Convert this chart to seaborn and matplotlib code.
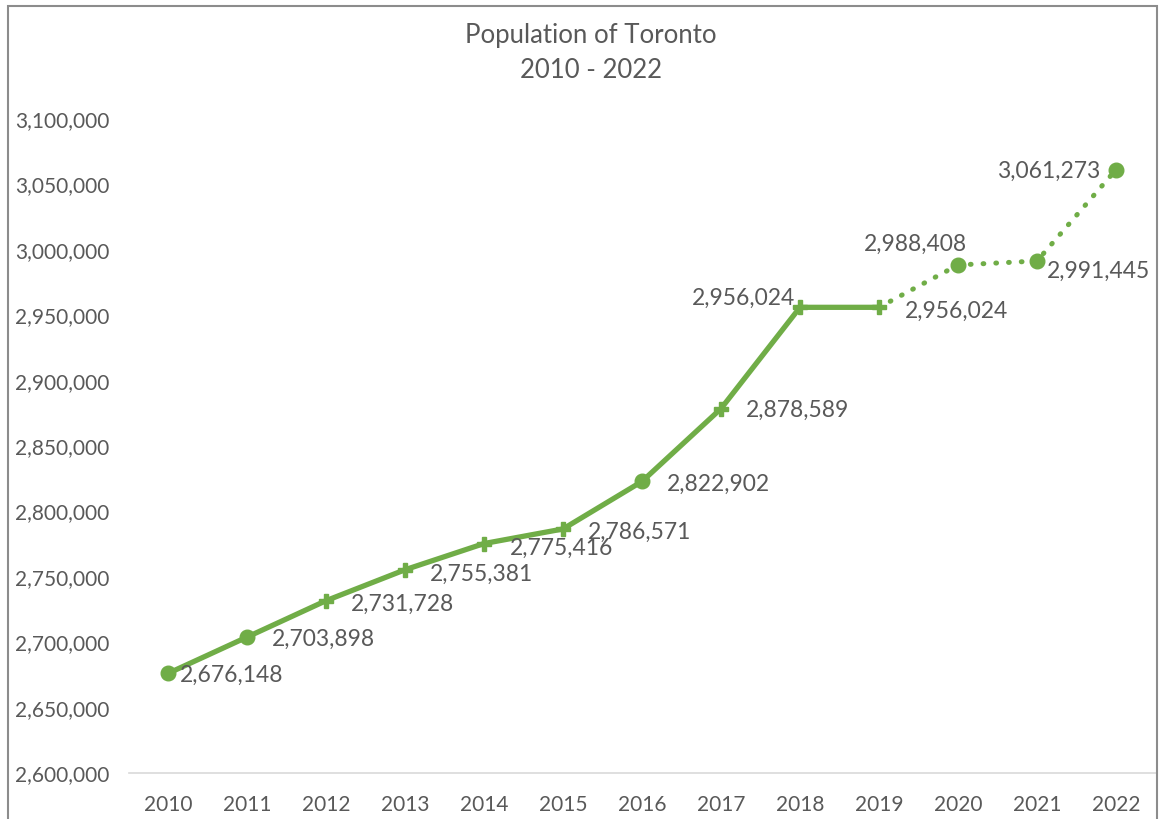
import matplotlib
matplotlib.use("Agg")
import matplotlib.pyplot as plt
import seaborn as sns
import pandas as pd
from matplotlib.patches import Rectangle

years = ["2010", "2011", "2012", "2013", "2014", "2015", "2016",
         "2017", "2018", "2019", "2020", "2021", "2022"]
population = [2676148, 2703898, 2731728, 2755381, 2775416, 2786571, 2822902,
              2878589, 2956024, 2956024, 2988408, 2991445, 3061273]
y_ticks = [2600000, 2650000, 2700000, 2750000, 2800000, 2850000,
           2900000, 2950000, 3000000, 3050000, 3100000]

sns.set_theme(style="white")
plt.rcParams["font.family"] = ["Lato", "DejaVu Sans"]

GREEN = "#70AD47"
TEXT = "#595959"

df = pd.DataFrame({"idx": range(len(years)), "year": years, "pop": population})
solid = df[df["idx"] <= 9]
dotted = df[df["idx"] >= 9]

fig = plt.figure(figsize=(11.59, 8.19), dpi=100)
ax = fig.add_axes([128.5 / 1159, 1 - 773 / 819, 1027 / 1159, 654 / 819])

sns.lineplot(data=solid, x="idx", y="pop", ax=ax, color=GREEN, lw=3.8,
             solid_capstyle="round", zorder=3)
sns.lineplot(data=dotted, x="idx", y="pop", ax=ax, color=GREEN, lw=3.6,
             linestyle=(0, (0.15, 2.4)), dash_capstyle="round", zorder=3)

round_idx = [0, 1, 6, 10, 11, 12]
round_pts = df[df["idx"].isin(round_idx)]
cross_pts = df[~df["idx"].isin(round_idx)]
ax.plot(round_pts["idx"], round_pts["pop"], "o", ms=10.5, color=GREEN,
        mec=GREEN, zorder=4)
ax.plot(cross_pts["idx"], cross_pts["pop"], "P", ms=10, color=GREEN,
        mec=GREEN, zorder=4)

# data labels: offsets in pixels (dx, dy) and alignment
label_pos = {
    0: (12, -2, "left"),
    1: (25, -2, "left"),
    2: (25, -4, "left"),
    3: (25, -5, "left"),
    4: (26, -5, "left"),
    5: (25, -3, "left"),
    6: (25, -3, "left"),
    7: (25, -2, "left"),
    8: (-5, 9, "right"),
    9: (26, -4, "left"),
    10: (-43, 21, "center"),
    11: (10, -10, "left"),
    12: (-16, -2, "right"),
}
for i, v in enumerate(population):
    dx, dy, ha = label_pos[i]
    ax.annotate(f"{v:,}", (i, v), xytext=(dx, dy), textcoords="offset pixels",
                ha=ha, va="center", fontsize=16.5, color=TEXT, zorder=5)

ax.set_xlim(-0.5, len(years) - 0.5)
ax.set_ylim(2600000, 3100000)
ax.set_xticks(range(len(years)))
ax.set_xticklabels(years)
ax.set_yticks(y_ticks)
ax.set_yticklabels([f"{t:,}" for t in y_ticks])
ax.tick_params(axis="both", labelsize=15, labelcolor=TEXT, length=0)
ax.tick_params(axis="x", pad=16)
ax.tick_params(axis="y", pad=14)
ax.set_xlabel("")
ax.set_ylabel("")
for side in ["top", "right", "left"]:
    ax.spines[side].set_visible(False)
ax.spines["bottom"].set_color("#D9D9D9")
ax.spines["bottom"].set_linewidth(1.2)
ax.patch.set_alpha(0)

fig.text(591 / 1159, 1 - 35 / 819, "Population of Toronto", ha="center",
         va="center", fontsize=18.5, color=TEXT)
fig.text(591 / 1159, 1 - 70 / 819, "2010 - 2022", ha="center",
         va="center", fontsize=18.5, color=TEXT)

fig.patches.append(Rectangle((8 / 1159, -0.05), 1149 / 1159, 1.05 - 6 / 819,
                             transform=fig.transFigure, fill=False,
                             edgecolor="#8C8C8C", lw=1.5))

fig.savefig("out.png", dpi=100, facecolor="white")
